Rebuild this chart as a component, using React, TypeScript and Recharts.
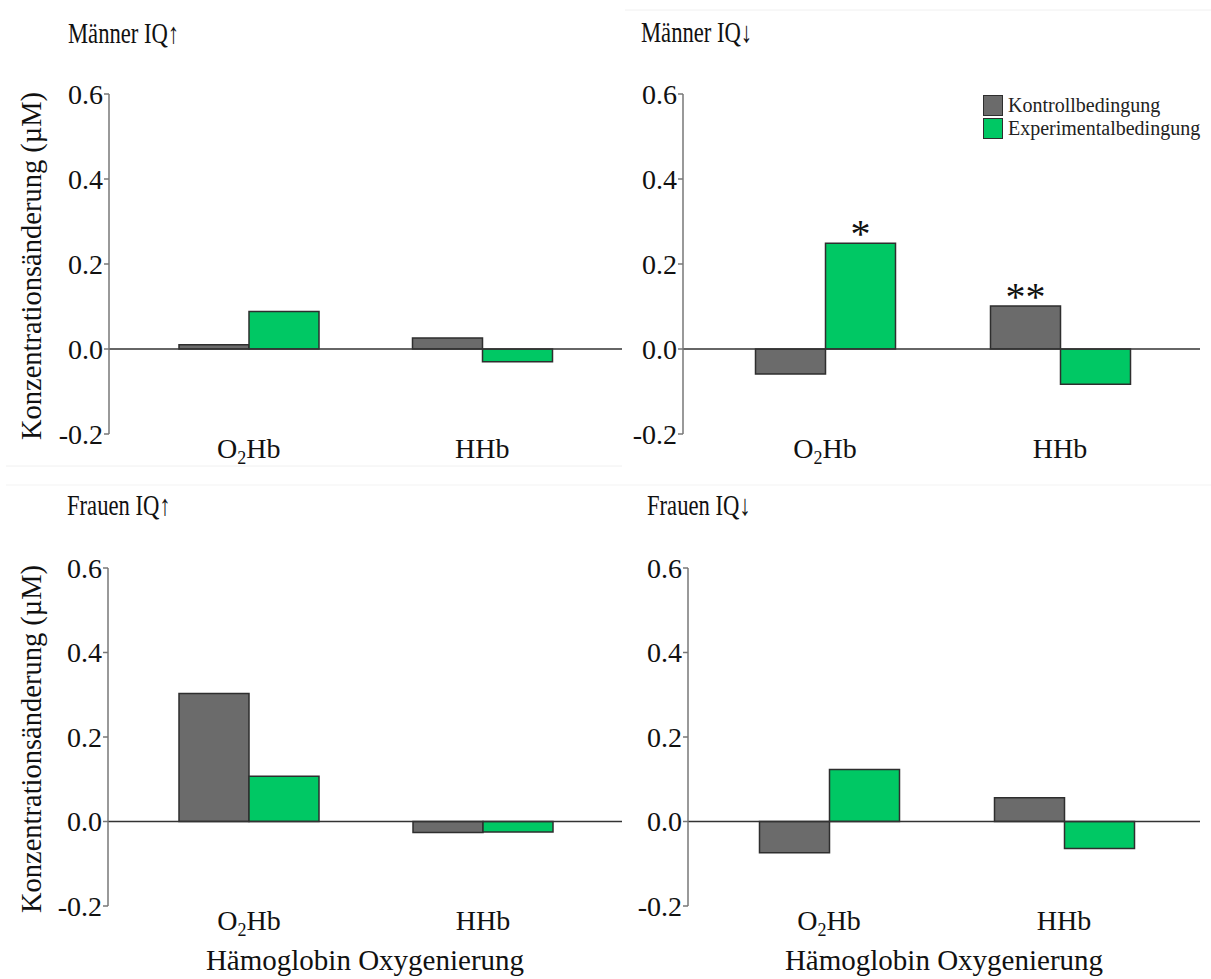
import React from 'react';
import { BarChart, Bar, XAxis, YAxis, ReferenceLine, Legend, LabelList, Label } from 'recharts';

// ---------- data ----------
const categories = ['O2Hb', 'HHb'];
const yTicks = [-0.2, 0, 0.2, 0.4, 0.6];
const seriesNames = ['Kontrollbedingung', 'Experimentalbedingung'];
const panelTitles = ['Männer IQ↑', 'Männer IQ↓', 'Frauen IQ↑', 'Frauen IQ↓'];
const yAxisTitle = 'Konzentrationsänderung (µM)';
const xAxisTitle = 'Hämoglobin Oxygenierung';

const maennerHochKontroll = [0.01, 0.026];
const maennerHochExperimental = [0.088, -0.03];
const maennerNiedrigKontroll = [-0.059, 0.101];
const maennerNiedrigExperimental = [0.249, -0.083];
const frauenHochKontroll = [0.303, -0.026];
const frauenHochExperimental = [0.107, -0.025];
const frauenNiedrigKontroll = [-0.074, 0.056];
const frauenNiedrigExperimental = [0.123, -0.064];

const maennerNiedrigSigKontroll = ['', '**'];
const maennerNiedrigSigExperimental = ['*', ''];
const noSig = ['', ''];

// ---------- style ----------
const FONT = '"Liberation Serif", "Times New Roman", serif';
const GREY = '#6b6b6b';
const GREEN = '#00c864';
const BAR_STROKE = '#2e2e2e';
const seriesColors = [GREY, GREEN];

const CategoryTick = (props: any) => {
  const { x, y, payload } = props;
  const v: string = String(payload.value);
  const m = v.match(/^([A-Z])(\d)(.*)$/);
  return (
    <text x={x} y={y + 24} textAnchor="middle" fontFamily={FONT} fontSize={28} fill="#111">
      {m ? (
        <>
          <tspan>{m[1]}</tspan>
          <tspan fontSize={18} dy={6}>{m[2]}</tspan>
          <tspan dy={-6}>{m[3]}</tspan>
        </>
      ) : (
        v
      )}
    </text>
  );
};

const SigLabel = (props: any) => {
  const { x, y, width, value } = props;
  if (!value) return null;
  return (
    <text x={x + width / 2} y={y + 4} textAnchor="middle" fontFamily={FONT} fontSize={40} fill="#111">
      {value}
    </text>
  );
};

const LegendContent = (props: any) => {
  const payload: any[] = [...(props.payload || [])].sort(
    (a, b) => seriesNames.indexOf(a.value) - seriesNames.indexOf(b.value)
  );
  return (
    <div>
      {payload.map((p) => (
        <div key={p.value} style={{ display: 'flex', alignItems: 'center', height: 23 }}>
          <span
            style={{
              display: 'inline-block',
              width: 18,
              height: 19,
              background: p.color,
              border: `1.5px solid ${BAR_STROKE}`,
            }}
          />
          <span style={{ marginLeft: 5, fontFamily: FONT, fontSize: 20, color: '#222', lineHeight: '23px' }}>
            {p.value}
          </span>
        </div>
      ))}
    </div>
  );
};

type PanelProps = {
  left: number;
  top: number;
  width: number;
  height: number;
  plotLeft: number;
  plotTop: number;
  plotHeight: number;
  plotRight: number;
  padLeft: number;
  padRight: number;
  xAxisHeight: number;
  kontroll: number[];
  experimental: number[];
  sigK: string[];
  sigE: string[];
  showYLabel: boolean;
  showXLabel: boolean;
  showLegend: boolean;
};

const Panel = (p: PanelProps) => {
  const data = categories.map((c, i) => ({
    category: c,
    kontroll: p.kontroll[i],
    experimental: p.experimental[i],
    sigK: p.sigK[i],
    sigE: p.sigE[i],
  }));
  const marginBottom = p.height - p.plotTop - p.plotHeight - p.xAxisHeight;
  return (
    <div style={{ position: 'absolute', left: p.left, top: p.top, width: p.width, height: p.height }}>
      <BarChart
        width={p.width}
        height={p.height}
        data={data}
        margin={{ top: p.plotTop, right: p.width - p.plotRight, left: 0, bottom: marginBottom }}
        barGap={0}
        barSize={70}
      >
        <XAxis
          dataKey="category"
          axisLine={false}
          tickLine={false}
          tickSize={0}
          tickMargin={0}
          height={p.xAxisHeight}
          padding={{ left: p.padLeft, right: p.padRight }}
          tick={<CategoryTick />}
          interval={0}
        >
          {p.showXLabel && (
            <Label
              content={(lp: any) => {
                const vb = lp.viewBox;
                return (
                  <text
                    x={vb.x + vb.width / 2}
                    y={vb.y + 64}
                    textAnchor="middle"
                    fontFamily={FONT}
                    fontSize={29}
                    fill="#111"
                  >
                    {xAxisTitle}
                  </text>
                );
              }}
            />
          )}
        </XAxis>
        <YAxis
          type="number"
          domain={[-0.2, 0.6]}
          ticks={yTicks}
          interval={0}
          width={p.plotLeft}
          tickFormatter={(v: number) => v.toFixed(1)}
          axisLine={{ stroke: '#777', strokeWidth: 1.5 }}
          tickLine={{ stroke: '#777', strokeWidth: 1.5 }}
          tickSize={5}
          tickMargin={1}
          tick={{ fill: '#111', fontSize: 28, fontFamily: FONT }}
        >
          {p.showYLabel && (
            <Label
              content={(lp: any) => {
                const vb = lp.viewBox;
                const cy = vb.y + vb.height / 2 + 2;
                return (
                  <text
                    x={41}
                    y={cy}
                    transform={`rotate(-90, 41, ${cy})`}
                    textAnchor="middle"
                    fontFamily={FONT}
                    fontSize={28.5}
                    fill="#111"
                  >
                    {yAxisTitle}
                  </text>
                );
              }}
            />
          )}
        </YAxis>
        <ReferenceLine y={0} stroke="#333" strokeWidth={1.5} />
        <Bar
          dataKey="kontroll"
          name={seriesNames[0]}
          fill={seriesColors[0]}
          stroke={BAR_STROKE}
          strokeWidth={1.5}
          isAnimationActive={false}
        >
          <LabelList dataKey="sigK" content={SigLabel} />
        </Bar>
        <Bar
          dataKey="experimental"
          name={seriesNames[1]}
          fill={seriesColors[1]}
          stroke={BAR_STROKE}
          strokeWidth={1.5}
          isAnimationActive={false}
        >
          <LabelList dataKey="sigE" content={SigLabel} />
        </Bar>
        {p.showLegend && (
          <Legend
            layout="vertical"
            align="center"
            verticalAlign="middle"
            content={<LegendContent />}
            wrapperStyle={{ left: 358, top: 94, width: 230, height: 50 }}
          />
        )}
      </BarChart>
    </div>
  );
};

const Title = ({ x, y, text }: { x: number; y: number; text: string }) => (
  <text transform={`translate(${x}, ${y}) scale(0.78, 1)`} fontFamily={FONT} fontSize={29} fill="#111">
    {text}
  </text>
);

export default function App() {
  return (
    <div style={{ position: 'absolute', left: 0, top: 0, width: 1211, height: 979, background: '#fff' }}>
      <Panel
        left={0}
        top={0}
        width={625}
        height={470}
        plotLeft={109}
        plotTop={94}
        plotHeight={340}
        plotRight={622}
        padLeft={23}
        padRight={23}
        xAxisHeight={36}
        kontroll={maennerHochKontroll}
        experimental={maennerHochExperimental}
        sigK={noSig}
        sigE={noSig}
        showYLabel
        showXLabel={false}
        showLegend={false}
      />
      <Panel
        left={625}
        top={0}
        width={586}
        height={470}
        plotLeft={58}
        plotTop={94}
        plotHeight={340}
        plotRight={575}
        padLeft={24.5}
        padRight={22.5}
        xAxisHeight={36}
        kontroll={maennerNiedrigKontroll}
        experimental={maennerNiedrigExperimental}
        sigK={maennerNiedrigSigKontroll}
        sigE={maennerNiedrigSigExperimental}
        showYLabel={false}
        showXLabel={false}
        showLegend
      />
      <Panel
        left={0}
        top={470}
        width={625}
        height={509}
        plotLeft={108}
        plotTop={98}
        plotHeight={338}
        plotRight={622}
        padLeft={24}
        padRight={22}
        xAxisHeight={73}
        kontroll={frauenHochKontroll}
        experimental={frauenHochExperimental}
        sigK={noSig}
        sigE={noSig}
        showYLabel
        showXLabel
        showLegend={false}
      />
      <Panel
        left={625}
        top={470}
        width={586}
        height={509}
        plotLeft={63}
        plotTop={98}
        plotHeight={338}
        plotRight={575}
        padLeft={23.5}
        padRight={18.5}
        xAxisHeight={73}
        kontroll={frauenNiedrigKontroll}
        experimental={frauenNiedrigExperimental}
        sigK={noSig}
        sigE={noSig}
        showYLabel={false}
        showXLabel
        showLegend={false}
      />
      <svg
        width={1211}
        height={979}
        style={{ position: 'absolute', left: 0, top: 0, pointerEvents: 'none' }}
      >
        <line x1={6} y1={466} x2={622} y2={466} stroke="#f0f0f0" strokeWidth={1} />
        <line x1={6} y1={485} x2={1211} y2={485} stroke="#f3f3f3" strokeWidth={1} />
        <line x1={625} y1={10} x2={1211} y2={10} stroke="#f0f0f0" strokeWidth={1} />
        <Title x={68} y={43} text={panelTitles[0]} />
        <Title x={641} y={42} text={panelTitles[1]} />
        <Title x={67} y={515} text={panelTitles[2]} />
        <Title x={647} y={515} text={panelTitles[3]} />
      </svg>
    </div>
  );
}
